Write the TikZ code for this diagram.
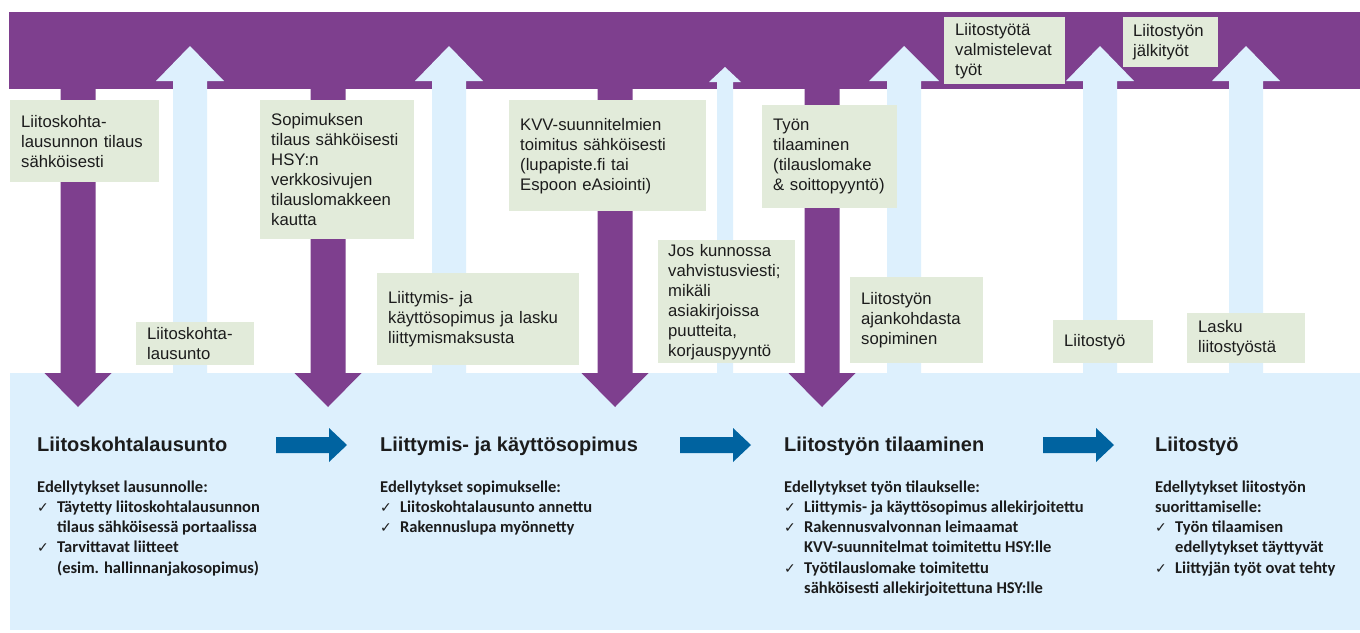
\documentclass[tikz,border=0pt]{standalone}
\usepackage{fontspec}
\setmainfont{Liberation Sans}
\newfontfamily\listfont{Carlito}
\newfontfamily\checkfont{DejaVu Sans}
\usetikzlibrary{arrows,positioning,calc,arrows.meta}
\definecolor{hsypurple}{RGB}{126,63,142}
\definecolor{hsylight}{RGB}{221,240,253}
\definecolor{hsygreen}{RGB}{226,235,218}
\definecolor{hsyblue}{RGB}{0,99,160}
\definecolor{textgray}{RGB}{28,28,28}
\tikzset{
  laatikko/.style={fill=hsygreen,text=textgray,anchor=north west,align=left,inner xsep=11pt,inner ysep=0pt,font=\fontsize{16.7}{20}\selectfont},
  otsikko/.style={anchor=base west,inner sep=0pt,text=textgray,font=\bfseries\fontsize{20}{24}\selectfont},
  ehdot/.style={anchor=base west,inner sep=0pt,text=textgray,font=\listfont\bfseries\fontsize{16.5}{20.3}\selectfont}
}
% arrows: up (centre, half shaft, half head, head base, tip), down (centre), right (start)
\newcommand{\ylos}[5]{\fill[hsylight] (#1-#2,374) -- (#1-#2,#4) -- (#1-#3,#4) -- (#1,#5) -- (#1+#3,#4) -- (#1+#2,#4) -- (#1+#2,374) -- cycle;}
\newcommand{\alas}[1]{\fill[hsypurple] (#1-17.5,85) -- (#1+17.5,85) -- (#1+17.5,373) -- (#1+33.5,373) -- (#1,407) -- (#1-33.5,373) -- (#1-17.5,373) -- cycle;}
\newcommand{\oikea}[1]{\fill[hsyblue] (#1,437) -- (#1+53,437) -- (#1+53,428) -- (#1+71,445) -- (#1+53,462) -- (#1+53,453) -- (#1,453) -- cycle;}
\newcommand{\ck}{\makebox[20pt][l]{\checkfont\fontsize{14}{14}\selectfont ✓}}
\newcommand{\ind}{\hspace*{20pt}}

\begin{document}
\begin{tikzpicture}[x=1pt,y=-1pt]
\fill[white] (0,0) rectangle (1360,632);
\useasboundingbox (0,0) rectangle (1360,632);
% band and base area
\fill[hsypurple] (9,12) rectangle (1360,89);
\fill[hsylight] (10,373) rectangle (1360,630);
% responses up
\ylos{190}{17}{34}{81}{46}
\ylos{449}{17}{34}{81}{46}
\ylos{725}{8}{16}{82}{67}
\ylos{904}{17}{35}{81}{46}
\ylos{1100}{17}{34}{81}{46}
\ylos{1246}{17}{34}{81}{46}
% orders down
\alas{78}
\alas{328}
\alas{615}
\alas{822}
% text boxes
\node[laatikko,text width=127pt,minimum height=82pt] (tilaus) at (10,100) {Liitoskohta-\\lausunnon tilaus\\sähköisesti};
\node[laatikko,text width=96pt,minimum height=43pt] (lausunto) at (136,322) {Liitoskohta-\\lausunto};
\node[laatikko,text width=132pt,minimum height=139pt] (sopimustilaus) at (260,100) {Sopimuksen\\tilaus sähköisesti\\HSY:n\\verkkosivujen\\tilauslomakkeen\\kautta};
\node[laatikko,text width=180pt,minimum height=92pt] (sopimus) at (377,273) {Liittymis- ja\\käyttösopimus ja lasku\\liittymismaksusta};
\node[laatikko,text width=175pt,minimum height=111pt] (kvv) at (509,100) {KVV-suunnitelmien\\toimitus sähköisesti\\(lupapiste.fi tai\\Espoon eAsiointi)};
\node[laatikko,text width=117pt,minimum height=123pt,inner xsep=10pt] (vahvistus) at (658,240) {Jos kunnossa\\vahvistusviesti;\\mikäli\\asiakirjoissa\\puutteita,\\korjauspyyntö};
\node[laatikko,text width=113pt,minimum height=103pt] (tyotilaus) at (762,105) {Työn\\tilaaminen\\(tilauslomake\\\& soittopyyntö)};
\node[laatikko,text width=111pt,minimum height=86pt] (ajankohta) at (850,277) {Liitostyön\\ajankohdasta\\sopiminen};
\node[laatikko,text width=99pt,minimum height=67pt] (valmistelu) at (944,17) {Liitostyötä\\valmistelevat\\työt};
\node[laatikko,text width=78pt,minimum height=43pt] (liitostyo) at (1053,320) {Liitostyö};
\node[laatikko,text width=75pt,minimum height=50pt,inner xsep=10pt] (jalkityot) at (1123,17) {Liitostyön\\jälkityöt};
\node[laatikko,text width=96pt,minimum height=50pt] (lasku) at (1187,313) {Lasku\\liitostyöstä};
% phases
\oikea{276}
\oikea{680}
\oikea{1043}
\node[otsikko] (otsikko1) at (37,451) {Liitoskohtalausunto};
\node[otsikko] (otsikko2) at (380,451) {Liittymis- ja käyttösopimus};
\node[otsikko] (otsikko3) at (784,451) {Liitostyön tilaaminen};
\node[otsikko] (otsikko4) at (1155,451) {Liitostyö};
\node[ehdot] (ehdot1) at (37,492) {\begin{tabular}[t]{@{}l@{}}Edellytykset lausunnolle:\\ \ck Täytetty liitoskohtalausunnon\\ \ind tilaus sähköisessä portaalissa\\ \ck Tarvittavat liitteet\\ \ind (esim. hallinnanjakosopimus)\end{tabular}};
\node[ehdot] (ehdot2) at (380,492) {\begin{tabular}[t]{@{}l@{}}Edellytykset sopimukselle:\\ \ck Liitoskohtalausunto annettu\\ \ck Rakennuslupa myönnetty\end{tabular}};
\node[ehdot] (ehdot3) at (784,492) {\begin{tabular}[t]{@{}l@{}}Edellytykset työn tilaukselle:\\ \ck Liittymis- ja käyttösopimus allekirjoitettu\\ \ck Rakennusvalvonnan leimaamat\\ \ind KVV-suunnitelmat toimitettu HSY:lle\\ \ck Työtilauslomake toimitettu\\ \ind sähköisesti allekirjoitettuna HSY:lle\end{tabular}};
\node[ehdot] (ehdot4) at (1155,492) {\begin{tabular}[t]{@{}l@{}}Edellytykset liitostyön\\ suorittamiselle:\\ \ck Työn tilaamisen\\ \ind edellytykset täyttyvät\\ \ck Liittyjän työt ovat tehty\end{tabular}};
\end{tikzpicture}
\end{document}
